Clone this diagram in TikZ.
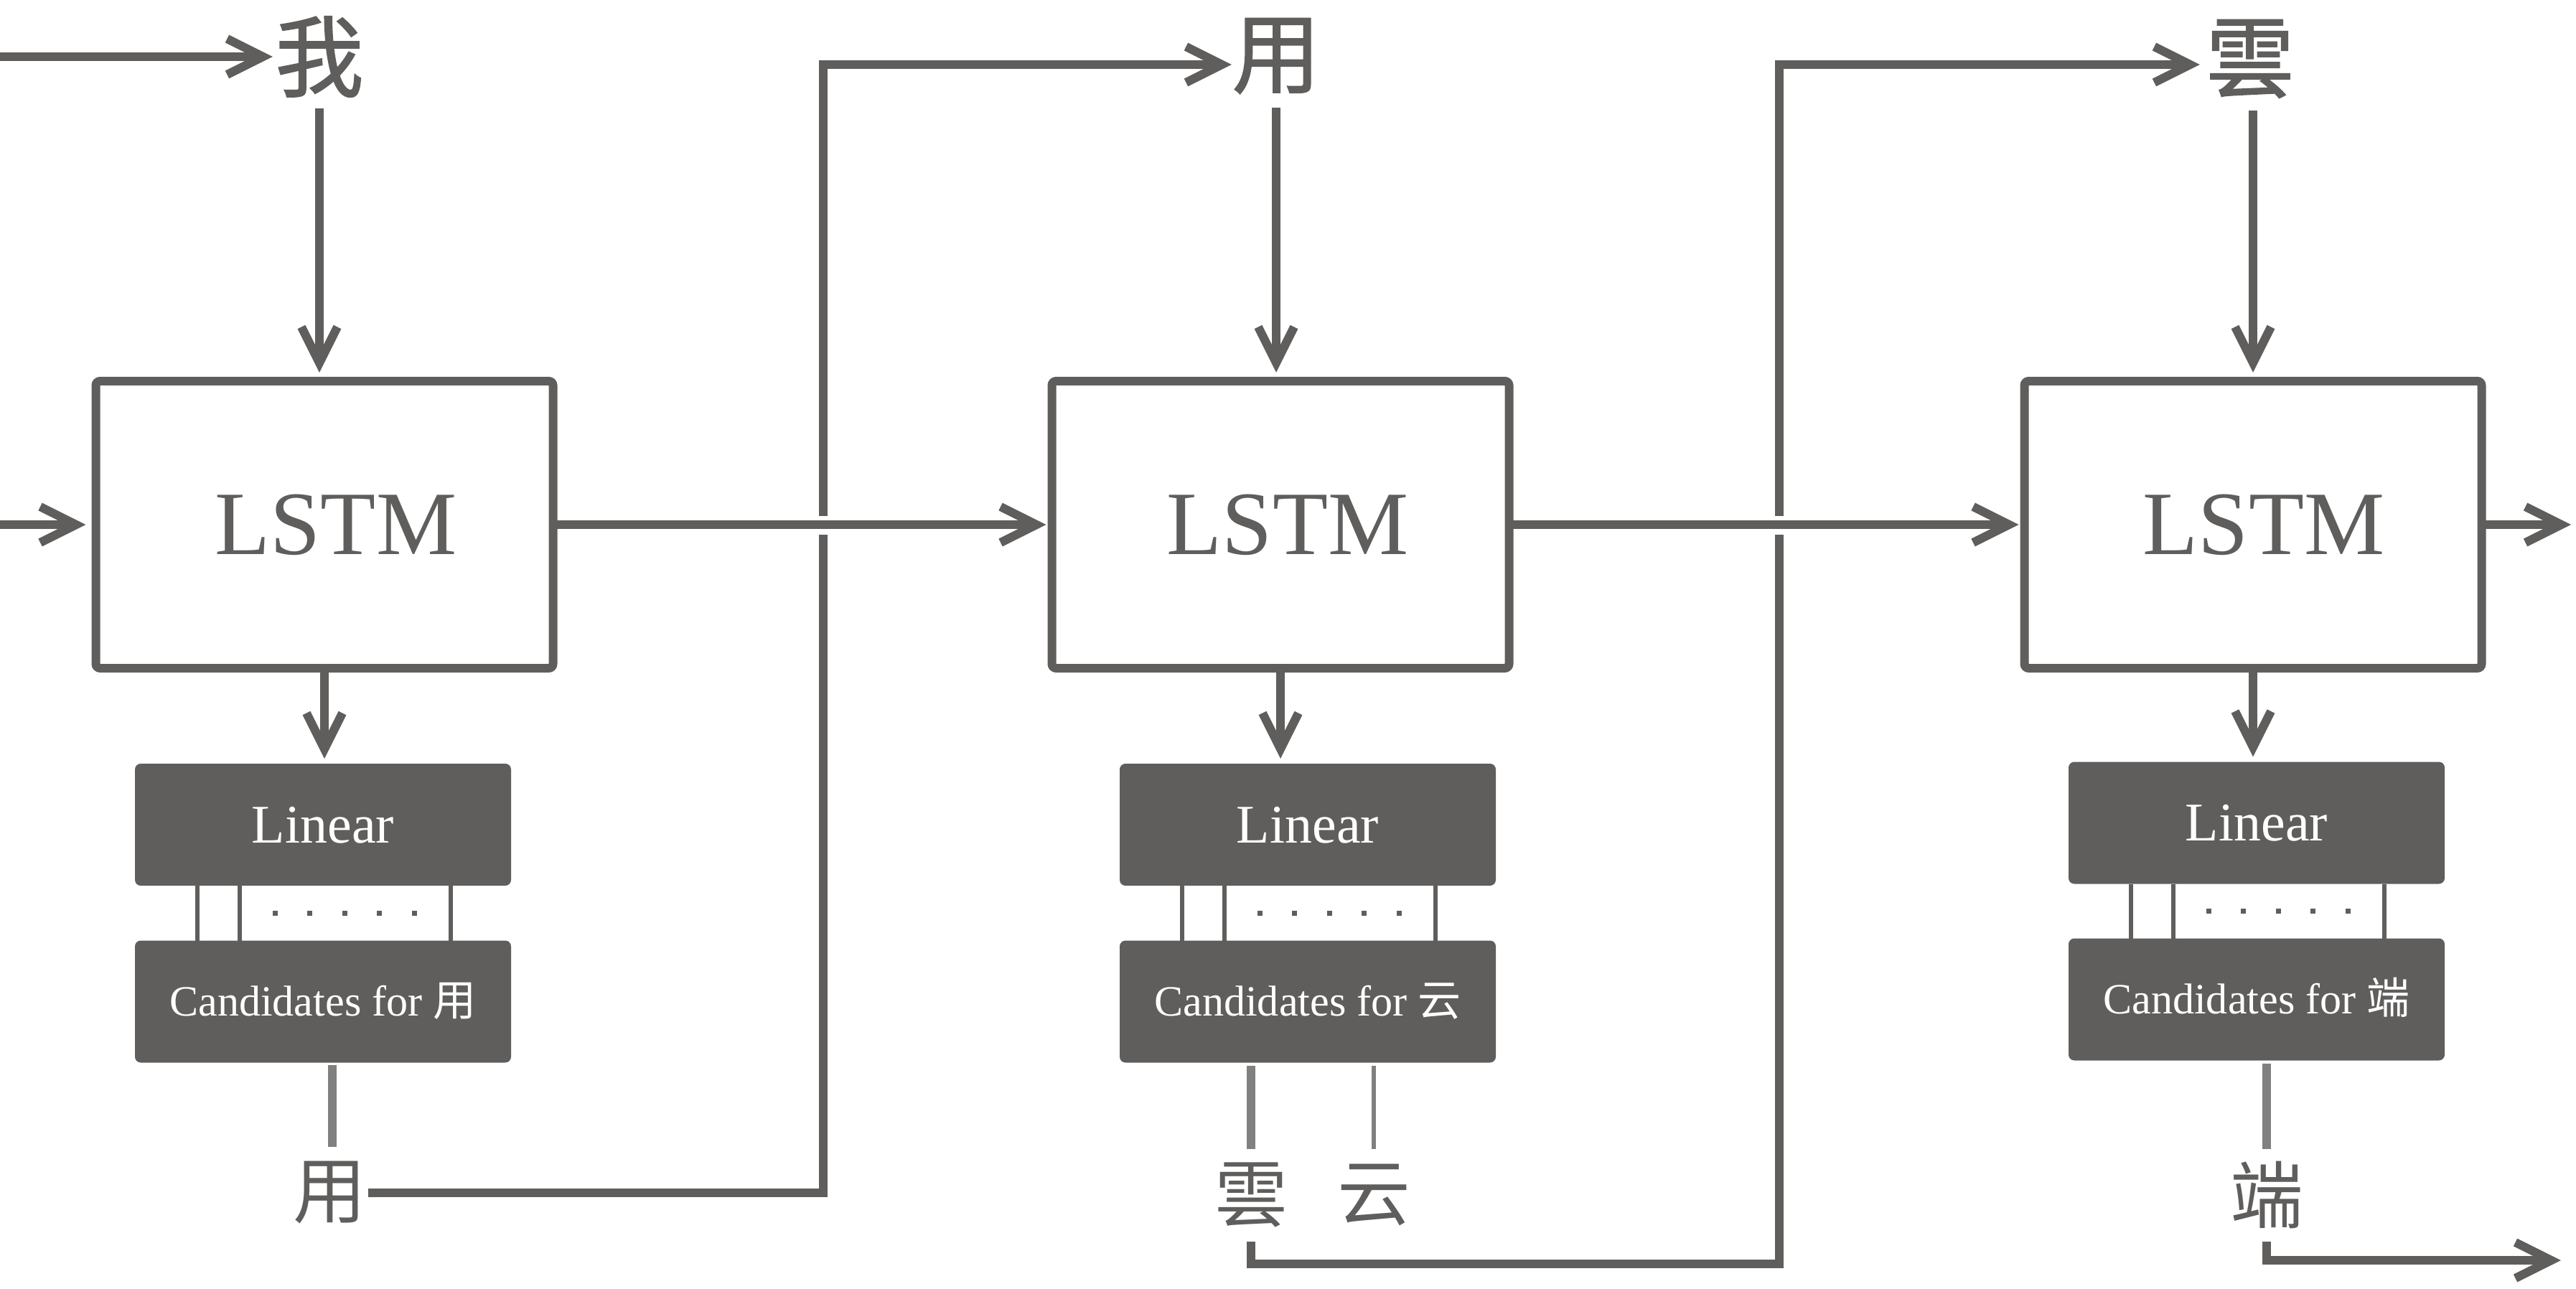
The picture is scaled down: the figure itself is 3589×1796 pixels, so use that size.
\documentclass[tikz,border=0pt]{standalone}
\usepackage{fontspec}
\setmainfont{Liberation Serif}
\newfontfamily\cjk{Noto Sans CJK SC}
\newfontfamily\cjkh{Noto Sans CJK SC}[FakeBold=1.5]
\usetikzlibrary{arrows.meta,calc}
\definecolor{dg}{RGB}{95,94,92}
\definecolor{lg}{RGB}{128,128,128}
\begin{document}
\begin{tikzpicture}[x=0.1mm,y=-0.1mm,line join=miter,
  conn/.style={draw=dg, line width=1.2mm},
  arr/.style={conn, -{Straight Barb[length=5mm,width=5mm]}},
  lstm/.style={draw=dg, line width=1.2mm, minimum width=63.7mm, minimum height=40mm,
    inner sep=0pt, outer sep=0pt, rounded corners=0.6mm},
  lab/.style={text=dg, inner sep=0pt, text height=23.8pt, text depth=0pt,
    font=\fontsize{35.9}{40}\selectfont},
  dark/.style={fill=dg, rounded corners=0.8mm, minimum width=52.4mm, minimum height=17mm,
    inner sep=0pt, outer sep=0pt, text=white},
  lin/.style={dark, text height=14.3pt, text depth=0pt, font=\fontsize{21.6}{24}\selectfont},
  cand/.style={dark, text height=11.3pt, text depth=0pt, font=\fontsize{17.1}{20}\selectfont},
  ch/.style={text=dg, inner sep=0pt, minimum height=14.2mm, font=\cjkh\fontsize{35}{40}\selectfont},
  chs/.style={text=dg, inner sep=0pt, minimum height=12.6mm, font=\cjk\fontsize{29}{32}\selectfont},
  tick/.style={draw=dg, line width=0.56mm},
  sel/.style={draw=lg, line width=1.2mm},
  selthin/.style={draw=lg, line width=0.6mm},
]
\useasboundingbox (0,0) rectangle (3589,1796);

% LSTM boxes
\node[lstm, label={[lab, xshift=1.6mm]center:LSTM}] (L1) at (452,731) {};
\node[lstm, label={[lab, xshift=1.0mm]center:LSTM}] (L2) at (1784,731) {};
\node[lstm, label={[lab, xshift=1.5mm]center:LSTM}] (L3) at (3139,731) {};

% Linear and candidate boxes
\node[lin] (Lin1) at (450,1149) {Linear};
\node[lin] (Lin2) at (1822,1149) {Linear};
\node[lin] (Lin3) at (3144,1146.5) {Linear};
\node[cand] (C1) at (450,1395.5) {Candidates for {\cjk 用}};
\node[cand] (C2) at (1822,1395.5) {Candidates for {\cjk 云}};
\node[cand] (C3) at (3144,1392.5) {Candidates for {\cjk 端}};

% top characters
\node[ch] (w1) at (445,79) {我};
\node[ch] (w2) at (1778,78) {用};
\node[ch] (w3) at (3135,82) {雲};

% bottom characters
\node[chs] (b1) at (459,1662) {用};
\node[chs] (b2) at (1743,1665) {雲};
\node[chs] (b2b) at (1914,1665) {云};
\node[chs] (b3) at (3158,1665) {端};

% free ends and bends
\coordinate (in1) at (0,79);
\coordinate (in2) at (0,731);
\coordinate (out1) at (3582,731);
\coordinate (out2) at (3568,1756);
\coordinate (k1) at (1147,90);
\coordinate (k2a) at (2479,1761);
\coordinate (k2b) at (2479,90);

% ticks between Linear and Candidates
\foreach \n in {1,2,3}{
  \foreach \dx in {-17.5mm,-11.6mm,17.8mm}
    \draw[tick] ([xshift=\dx]Lin\n.south) -- ([xshift=\dx]C\n.north);
  \foreach \dx in {-6.7mm,-1.9mm,3.0mm,7.8mm,12.7mm}
    \fill[dg] ($([xshift=\dx]Lin\n.south)!0.5!([xshift=\dx]C\n.north)$) ++(-0.35mm,-0.35mm) rectangle ++(0.7mm,0.7mm);
}

% selection lines
\draw[sel, shorten <=0.3mm] ([xshift=1.3mm]C1.south) -- ([xshift=1.3mm]C1.south |- b1.north);
\draw[sel, shorten <=0.4mm] (b2 |- C2.south) -- (b2.north);
\draw[selthin, shorten <=0.4mm] (b2b |- C2.south) -- (b2b.north);
\draw[sel, shorten <=0.4mm] (b3 |- C3.south) -- (b3.north);

% inputs from top characters
\draw[arr] (in1) -- ([xshift=-0.3mm]w1.west);
\draw[arr, shorten >=1.2mm] (w1.south) -- (w1.south |- L1.north);
\draw[arr, shorten >=1.2mm] (w2.south) -- (w2.south |- L2.north);
\draw[arr, shorten >=1.2mm] ([xshift=0.4mm]w3.south) -- ([xshift=0.4mm]w3.south |- L3.north);

% LSTM down to Linear
\draw[arr, shorten >=0.7mm] (L1.south) -- (L1.south |- Lin1.north);
\draw[arr, shorten >=0.7mm] (L2.south) -- (L2.south |- Lin2.north);
\draw[arr, shorten >=0.7mm] (L3.south) -- (L3.south |- Lin3.north);

% feedback paths
\draw[arr, shorten <=0.2mm] (b1.east) -| (k1) -- (k1 -| w2.west);
\draw[arr, shorten <=0.1mm] (b2.south) |- (k2a) -- (k2b) -- ([xshift=-0.8mm]k2b -| w3.west);
\draw[arr, shorten <=0.1mm] (b3.south) |- (out2);

% horizontal hidden-state arrows (drawn over the verticals with a gap)
\draw[arr, shorten >=1.4mm] (in2) -- (L1.west);
\fill[white] (1135,719) rectangle (1159,745);
\draw[arr, shorten >=0.8mm] (L1.east) -- (L2.west);
\fill[white] (2467,719) rectangle (2491,745);
\draw[arr, shorten >=0.8mm] (L2.east) -- (L3.west);
\draw[arr] (L3.east) -- (out1);
\end{tikzpicture}
\end{document}
